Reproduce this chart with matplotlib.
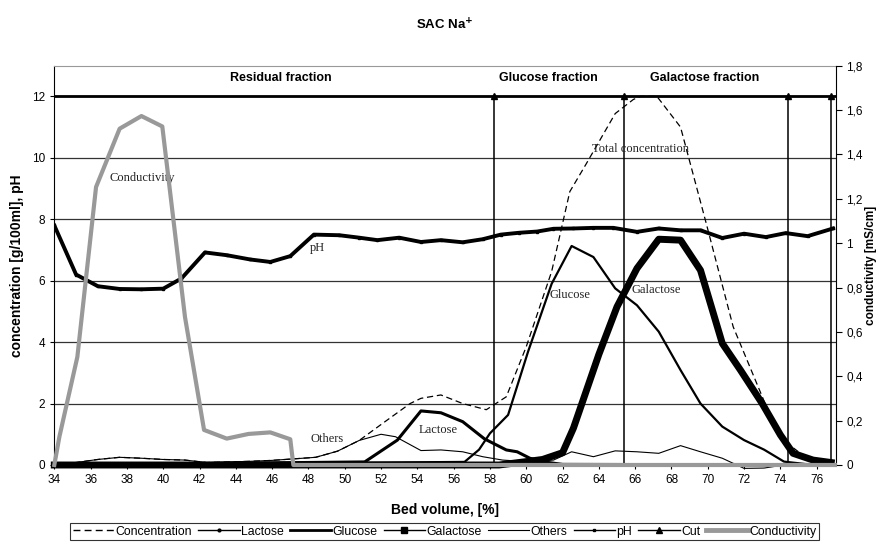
import matplotlib
matplotlib.use("Agg")
import matplotlib.pyplot as plt
from matplotlib.lines import Line2D
from matplotlib.ticker import FuncFormatter

plt.rcParams["font.family"] = ["Liberation Sans", "DejaVu Sans"]

# ---- data ----
ph_x = [34.0, 35.2, 36.4, 37.6, 38.8, 40.0, 41.0, 42.3, 43.5, 44.8, 45.9, 47.0, 48.3,
        49.7, 50.8, 51.8, 53.0, 54.2, 55.3, 56.5, 57.6, 58.6, 59.6, 60.6, 61.5, 62.6,
        63.7, 64.8, 66.1, 67.3, 68.5, 69.6, 70.8, 72.0, 73.2, 74.3, 75.5, 76.9]
ph_y = [7.8, 6.2, 5.82, 5.73, 5.72, 5.74, 6.07, 6.92, 6.83, 6.69, 6.61, 6.8, 7.5,
        7.48, 7.4, 7.32, 7.4, 7.26, 7.32, 7.25, 7.35, 7.5, 7.56, 7.6, 7.69, 7.7,
        7.72, 7.72, 7.59, 7.7, 7.64, 7.64, 7.39, 7.53, 7.42, 7.55, 7.45, 7.7]

cond_x = [34.0, 34.28, 35.27, 36.3, 37.6, 38.8, 39.95, 41.2, 42.25, 43.5, 44.7, 45.9,
          47.0, 47.17, 77.0]
cond_y = [0.0, 0.127, 0.487, 1.253, 1.516, 1.573, 1.526, 0.667, 0.158, 0.119, 0.14,
          0.147, 0.116, 0.0, 0.0]

glucose_x = [34.0, 56.6, 57.4, 58.0, 59.0, 60.1, 61.4, 62.5, 63.7, 64.9, 66.1, 67.3,
             68.5, 69.6, 70.8, 72.0, 73.1, 74.2, 75.4, 76.8]
glucose_y = [0.0, 0.1, 0.5, 1.03, 1.63, 3.69, 5.9, 7.13, 6.77, 5.75, 5.2, 4.34,
             3.09, 2.0, 1.25, 0.81, 0.5, 0.11, 0.03, 0.02]

lactose_x = [34.0, 51.1, 52.9, 54.2, 55.3, 56.5, 57.7, 58.9, 59.5, 60.2, 61.0, 62.0, 77.0]
lactose_y = [0.0, 0.1, 0.81, 1.76, 1.7, 1.41, 0.85, 0.49, 0.43, 0.22, 0.1, 0.02, 0.0]

galactose_x = [34.0, 58.5, 60.0, 60.9, 62.0, 62.6, 64.0, 65.0, 66.1, 67.3, 68.5, 69.6,
               70.8, 71.8, 73.0, 74.0, 74.7, 75.8, 76.8]
galactose_y = [0.0, 0.0, 0.11, 0.18, 0.4, 1.2, 3.6, 5.15, 6.4, 7.35, 7.32, 6.34,
               3.96, 3.09, 2.0, 0.98, 0.38, 0.16, 0.08]

others_x = [34.0, 35.2, 36.4, 37.6, 38.8, 40.0, 41.2, 42.4, 43.6, 44.8, 46.0, 47.2, 48.4,
            49.6, 50.8, 52.0, 52.8, 54.2, 55.3, 56.5, 57.6, 58.7, 60.0, 61.5, 62.5, 63.7,
            64.9, 66.1, 67.3, 68.5, 69.6, 70.8, 72.0, 73.1, 74.2, 75.4, 76.8]
others_y = [0.02, 0.08, 0.18, 0.25, 0.22, 0.18, 0.16, 0.08, 0.1, 0.12, 0.15, 0.2, 0.25,
            0.45, 0.8, 1.0, 0.92, 0.47, 0.49, 0.43, 0.27, 0.16, 0.11, 0.16, 0.43, 0.27,
            0.46, 0.43, 0.38, 0.63, 0.43, 0.22, -0.11, -0.1, 0.0, 0.0, 0.0]

total_x = [34.0, 35.2, 36.4, 37.6, 38.8, 40.0, 41.2, 42.4, 43.6, 44.8, 46.0, 47.2, 48.4,
           49.6, 50.8, 52.1, 53.6, 54.2, 55.3, 56.5, 57.8, 58.9, 60.0, 61.4, 62.4, 63.3,
           64.9, 65.9, 66.3, 67.2, 68.5, 69.9, 71.4, 73.3, 74.4, 75.5, 76.8]
total_y = [0.02, 0.08, 0.18, 0.25, 0.22, 0.18, 0.16, 0.08, 0.1, 0.12, 0.15, 0.2, 0.25,
           0.45, 0.8, 1.36, 2.0, 2.17, 2.28, 2.0, 1.8, 2.22, 3.85, 6.3, 8.9, 9.8,
           11.44, 11.9, 12.0, 12.0, 11.0, 7.9, 4.5, 1.8, 0.7, 0.2, 0.05]

cut_x = [58.2, 65.4, 74.4, 76.8]
cut_level = 12

fractions = ["Residual fraction", "Glucose fraction", "Galactose fraction"]
fraction_x = [46.5, 61.2, 69.8]

# ---- figure ----
fig = plt.figure(figsize=(8.8, 5.45), dpi=100)
ax = fig.add_axes([0.0617, 0.1468, 0.888, 0.7327])
ax.set_xlim(34, 77.05)
ax.set_ylim(0, 13)
ax.set_xticks(range(34, 77, 2))
ax.set_yticks(range(0, 13, 2))
ax.tick_params(direction="out", length=3, labelsize=8.5, width=0.8)
for y in range(2, 13, 2):
    ax.axhline(y, color="#333333", lw=0.9, zorder=1)

ax.spines["top"].set_color("#999999")
ax.spines["right"].set_visible(False)

# cut lines
ax.axhline(cut_level, color="black", lw=2, zorder=3)
ax.vlines(cut_x, 0, cut_level, color="black", lw=1.1, zorder=3)
ax.plot(cut_x, [cut_level] * len(cut_x), "^", color="black", ms=5, zorder=4, clip_on=False)

ax.plot(total_x, total_y, color="black", lw=0.9, ls=(0, (5, 3)), zorder=4)
ax.plot(others_x, others_y, color="black", lw=0.8, zorder=4, clip_on=False)
ax.plot(lactose_x, lactose_y, color="black", lw=2.2, zorder=5, clip_on=False)
ax.plot(glucose_x, glucose_y, color="black", lw=1.6, zorder=5, clip_on=False)
ax.plot(galactose_x, galactose_y, color="black", lw=5, zorder=5, clip_on=False)
ax.plot(ph_x, ph_y, color="black", lw=2.8, marker="s", ms=1.5, zorder=6)

serif = {"family": "Liberation Serif", "size": 9, "color": "#222222"}
ax.text(37.05, 9.33, "Conductivity", va="center", fontdict=serif, zorder=7)
ax.text(48.1, 7.06, "pH", va="center", fontdict=serif, zorder=7)
ax.text(63.6, 10.29, "Total concentration", va="center", fontdict=serif, zorder=7)
ax.text(61.3, 5.53, "Glucose", va="center", fontdict=serif, zorder=7)
ax.text(65.8, 5.69, "Galactose", va="center", fontdict=serif, zorder=7)
ax.text(48.1, 0.85, "Others", va="center", fontdict=serif, zorder=7)
ax.text(54.05, 1.14, "Lactose", va="center", fontdict=serif, zorder=7)

for name, fx in zip(fractions, fraction_x):
    ax.text(fx, 12.6, name, ha="center", va="center", fontsize=9, fontweight="bold")

ax.set_xlabel("Bed volume, [%]", fontsize=10, fontweight="bold", labelpad=12)
ax.set_ylabel("concentration [g/100ml], pH", fontsize=10, fontweight="bold", labelpad=6)

# conductivity on the right axis
ax2 = ax.twinx()
ax2.set_ylim(0, 1.8)
ax2.set_yticks([0, 0.2, 0.4, 0.6, 0.8, 1.0, 1.2, 1.4, 1.6, 1.8])
ax2.yaxis.set_major_formatter(FuncFormatter(lambda v, p: f"{v:g}".replace(".", ",")))
ax2.tick_params(direction="out", length=4, labelsize=8.5, width=0.8)
ax2.spines["top"].set_visible(False)
ax2.spines["left"].set_visible(False)
ax2.spines["bottom"].set_visible(False)
ax2.plot(cond_x, cond_y, color="#999999", lw=3, clip_on=False, zorder=8)
ax2.set_ylabel("conductivity [mS/cm]", fontsize=8.5, fontweight="bold", labelpad=2)

fig.suptitle("SAC Na$^{\\mathbf{+}}$", fontsize=9.5, fontweight="bold", x=0.505, y=0.968)

handles = [
    Line2D([], [], color="black", lw=1, ls=(0, (5, 3))),
    Line2D([], [], color="black", lw=1, marker="o", ms=2),
    Line2D([], [], color="black", lw=2),
    Line2D([], [], color="black", lw=1, marker="s", ms=5),
    Line2D([], [], color="black", lw=0.8),
    Line2D([], [], color="black", lw=1, marker="s", ms=2),
    Line2D([], [], color="black", lw=1, marker="^", ms=5),
    Line2D([], [], color="#999999", lw=3.5),
]
labels = ["Concentration", "Lactose", "Glucose", "Galactose", "Others", "pH", "Cut", "Conductivity"]
leg = fig.legend(handles, labels, loc="lower center", bbox_to_anchor=(0.505, -0.002),
                 ncol=8, fontsize=8.8, frameon=True, fancybox=False, handlelength=3.4,
                 handletextpad=0.1, columnspacing=0.5, borderpad=0.2)
leg.get_frame().set_edgecolor("black")
leg.get_frame().set_linewidth(0.8)

fig.savefig("out.png", dpi=100)
